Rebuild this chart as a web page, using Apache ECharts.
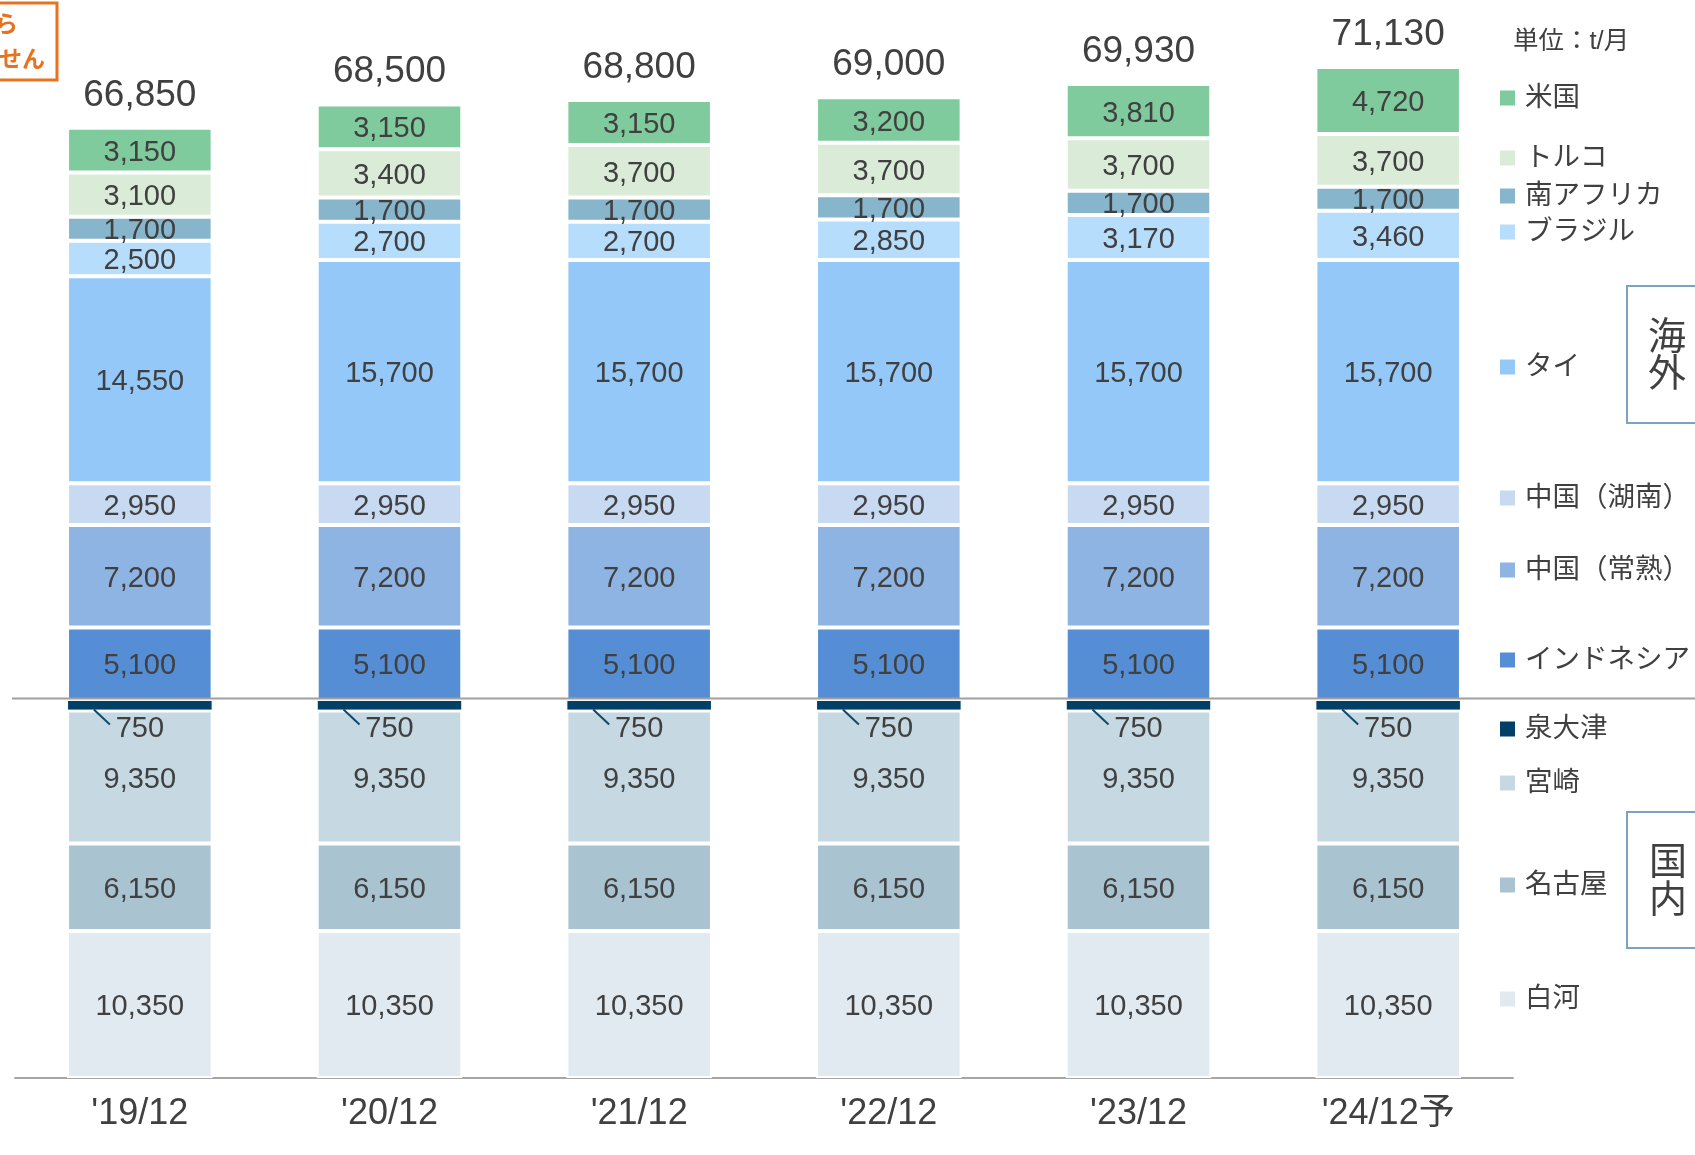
<!DOCTYPE html>
<html>
<head>
<meta charset="utf-8">
<script src="https://cdn.jsdelivr.net/npm/echarts@6/dist/echarts.min.js"></script>
<style>
html,body{margin:0;padding:0;background:#fff;}
#chart{width:1695px;height:1155px;}
</style>
</head>
<body>
<div id="chart"></div>
<script>
// ---- data ----
const categories = ["'19/12", "'20/12", "'21/12", "'22/12", "'23/12", "'24/12予"];
const shirakawa  = [10350, 10350, 10350, 10350, 10350, 10350]; // 白河
const nagoya     = [6150, 6150, 6150, 6150, 6150, 6150];       // 名古屋
const miyazaki   = [9350, 9350, 9350, 9350, 9350, 9350];       // 宮崎
const izumiotsu  = [750, 750, 750, 750, 750, 750];             // 泉大津
const indonesia  = [5100, 5100, 5100, 5100, 5100, 5100];       // インドネシア
const changshu   = [7200, 7200, 7200, 7200, 7200, 7200];       // 中国（常熟）
const hunan      = [2950, 2950, 2950, 2950, 2950, 2950];       // 中国（湖南）
const thailand   = [14550, 15700, 15700, 15700, 15700, 15700]; // タイ
const brazil     = [2500, 2700, 2700, 2850, 3170, 3460];       // ブラジル
const southAfrica= [1700, 1700, 1700, 1700, 1700, 1700];       // 南アフリカ
const turkey     = [3100, 3400, 3700, 3700, 3700, 3700];       // トルコ
const usa        = [3150, 3150, 3150, 3200, 3810, 4720];       // 米国
const totals     = [66850, 68500, 68800, 69000, 69930, 71130];

const seriesDefs = [
  {name: '白河', data: shirakawa, color: '#E2EAF1'},
  {name: '名古屋', data: nagoya, color: '#A9C3D1'},
  {name: '宮崎', data: miyazaki, color: '#C6D8E1'},
  {name: '泉大津', data: izumiotsu, color: '#003F66'},
  {name: 'インドネシア', data: indonesia, color: '#558ED5'},
  {name: '中国（常熟）', data: changshu, color: '#8EB4E3'},
  {name: '中国（湖南）', data: hunan, color: '#C7DAF1'},
  {name: 'タイ', data: thailand, color: '#93C8F8'},
  {name: 'ブラジル', data: brazil, color: '#B6DDFC'},
  {name: '南アフリカ', data: southAfrica, color: '#86B5CC'},
  {name: 'トルコ', data: turkey, color: '#DAECD8'},
  {name: '米国', data: usa, color: '#80CB9D'}
];

// legend layout (vertical centre of each legend marker, px)
const legendLayout = {
  '米国': 98, 'トルコ': 158, '南アフリカ': 196, 'ブラジル': 232, 'タイ': 367,
  '中国（湖南）': 498, '中国（常熟）': 570, 'インドネシア': 660, '泉大津': 729,
  '宮崎': 783, '名古屋': 885, '白河': 999
};

const FONT = "'Liberation Sans', Arial, 'Noto Sans CJK JP', sans-serif";
const TXT = '#404040';
const fmt = v => v.toLocaleString('en-US');

const chart = echarts.init(document.getElementById('chart'), null, {renderer: 'canvas'});

const series = seriesDefs.map(d => {
  const isSmall = d.name === '泉大津';
  return {
    name: d.name,
    type: 'bar',
    stack: 'total',
    barWidth: '58.3%',
    data: d.data,
    itemStyle: {color: d.color, borderColor: '#ffffff', borderWidth: isSmall ? 1 : 2},
    label: {
      show: true,
      position: isSmall ? 'bottom' : 'inside',
      distance: 4,
      offset: isSmall ? [0, 0] : [0, 2.5],
      formatter: p => fmt(p.value),
      fontSize: 29,
      fontFamily: FONT,
      color: TXT
    },
    emphasis: {disabled: true}
  };
});

// totals on top of each stack
series.push({
  name: '合計',
  type: 'bar',
  stack: 'total',
  barWidth: '58.3%',
  data: totals.map(() => 0),
  itemStyle: {color: 'rgba(0,0,0,0)', borderWidth: 0},
  label: {
    show: true,
    position: 'top',
    distance: 14,
    formatter: p => fmt(totals[p.dataIndex]),
    fontSize: 37,
    fontFamily: FONT,
    color: TXT
  },
  emphasis: {disabled: true},
  silent: true
});

// leader lines for 泉大津 labels
const izumiBase = categories.map((c, i) => [i, shirakawa[i] + nagoya[i] + miyazaki[i]]);
series.push({
  name: 'leader',
  type: 'custom',
  data: izumiBase,
  encode: {x: 0, y: 1},
  z: 10,
  silent: true,
  renderItem: (params, api) => {
    const p = api.coord([api.value(0), api.value(1)]);
    return {
      type: 'line',
      shape: {x1: p[0] - 46, y1: p[1] - 1, x2: p[0] - 30, y2: p[1] + 14},
      style: {stroke: '#0D4A6E', lineWidth: 2}
    };
  }
});

const legends = seriesDefs.map(d => ({
  data: [d.name],
  left: 1498,
  top: legendLayout[d.name] - 19,
  orient: 'vertical',
  icon: 'rect',
  itemWidth: 17,
  itemHeight: 17,
  padding: 0,
  selectedMode: false,
  textStyle: {fontSize: 27.5, fontFamily: FONT, color: TXT, lineHeight: 30, padding: [0, 0, 8, 4]}
}));

const option = {
  animation: false,
  backgroundColor: '#ffffff',
  grid: {left: 15, right: 182, top: 12, bottom: 77, containLabel: false},
  xAxis: {
    type: 'category',
    data: categories,
    axisTick: {show: false},
    axisLine: {show: true, lineStyle: {color: '#A6A6A6', width: 2}},
    axisLabel: {fontSize: 36, fontFamily: FONT, color: TXT, margin: 18}
  },
  yAxis: {
    type: 'value', min: 0, max: 75000, show: false,
    splitLine: {show: false}
  },
  legend: legends,
  series: series
};
chart.setOption(option);

// decorations: divider between overseas/domestic, unit text, boxes
const domesticTop = shirakawa[0] + nagoya[0] + miyazaki[0] + izumiotsu[0];
const yDiv = Math.round(chart.convertToPixel({yAxisIndex: 0}, domesticTop)) - 1.5;

chart.setOption({
  graphic: [
    {type: 'line', shape: {x1: 12, y1: yDiv, x2: 1695, y2: yDiv}, style: {stroke: '#A0A0A0', lineWidth: 2}, z: 100},
    {type: 'text', left: 1513, top: 29, style: {text: '単位：t/月', fontSize: 25.5, fontFamily: FONT, fill: TXT}},
    // 海外 box
    {type: 'rect', shape: {x: 1627, y: 286, width: 120, height: 137}, style: {fill: 'none', stroke: '#7BA3BD', lineWidth: 2}},
    {type: 'text', x: 1667, y: 339, style: {text: '海', fontSize: 38, fontFamily: FONT, fill: TXT, align: 'center', verticalAlign: 'middle'}},
    {type: 'text', x: 1667, y: 376, style: {text: '外', fontSize: 38, fontFamily: FONT, fill: TXT, align: 'center', verticalAlign: 'middle'}},
    // 国内 box
    {type: 'rect', shape: {x: 1627, y: 812, width: 120, height: 136}, style: {fill: 'none', stroke: '#7BA3BD', lineWidth: 2}},
    {type: 'text', x: 1668, y: 864, style: {text: '国', fontSize: 38, fontFamily: FONT, fill: TXT, align: 'center', verticalAlign: 'middle'}},
    {type: 'text', x: 1668, y: 902, style: {text: '内', fontSize: 38, fontFamily: FONT, fill: TXT, align: 'center', verticalAlign: 'middle'}},
    // orange note box (cut at the left edge)
    {type: 'rect', shape: {x: -20, y: 3, width: 77, height: 77}, style: {fill: '#ffffff', stroke: '#E8731E', lineWidth: 3}},
    {type: 'text', x: 18, y: 26, style: {text: '前回から', fontSize: 23, fontWeight: 'bold', fontFamily: FONT, fill: '#E8731E', align: 'right', verticalAlign: 'middle'}},
    {type: 'text', x: 45, y: 61, style: {text: '変更ありません', fontSize: 23, fontWeight: 'bold', fontFamily: FONT, fill: '#E8731E', align: 'right', verticalAlign: 'middle'}}
  ]
});
</script>
</body>
</html>
